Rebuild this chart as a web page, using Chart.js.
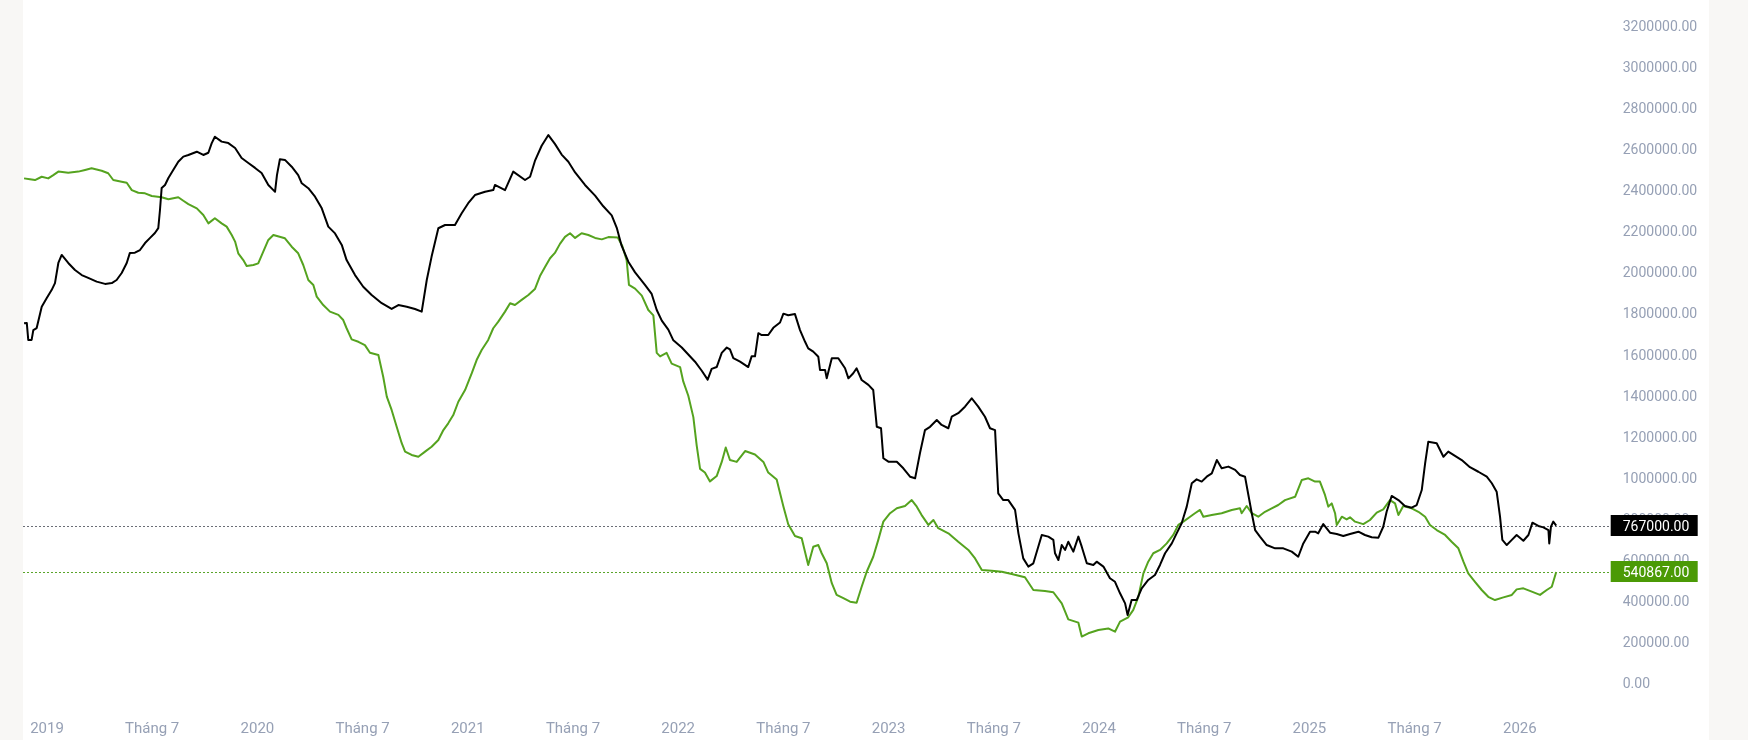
<!DOCTYPE html>
<html><head><meta charset="utf-8">
<script src="https://cdn.jsdelivr.net/npm/chart.js@4.4.1/dist/chart.umd.min.js"></script>
<style>
html,body{margin:0;padding:0;background:#f8f7f5;width:1748px;height:740px;overflow:hidden;}
#panel{position:absolute;left:23px;top:0;width:1686px;height:740px;background:#ffffff;}
canvas{display:block;}
</style></head><body>
<div id="panel"><canvas id="c" width="1686" height="740"></canvas></div>
<script>
// dates as decimal years
const blackDates=[
2018.891,2018.904,2018.911,2018.927,2018.935,2018.951,2018.975,2018.999,2019.022,2019.038,
2019.054,2019.070,2019.101,2019.133,2019.165,2019.196,2019.236,2019.276,2019.308,2019.331,
2019.355,2019.379,2019.394,2019.418,2019.442,2019.466,2019.490,2019.513,2019.529,2019.537,
2019.545,2019.561,2019.577,2019.600,2019.624,2019.648,2019.672,2019.712,2019.743,2019.767,
2019.783,2019.798,2019.830,2019.862,2019.894,2019.925,2019.957,2019.989,2020.020,2020.052,
2020.076,2020.084,2020.093,2020.107,2020.131,2020.163,2020.194,2020.211,2020.242,2020.274,
2020.306,2020.337,2020.369,2020.401,2020.424,2020.464,2020.503,2020.543,2020.591,2020.638,
2020.670,2020.710,2020.749,2020.781,2020.805,2020.828,2020.860,2020.892,2020.939,2020.971,
2021.002,2021.034,2021.082,2021.121,2021.129,2021.177,2021.216,2021.272,2021.296,2021.319,
2021.351,2021.383,2021.414,2021.446,2021.478,2021.510,2021.557,2021.605,2021.644,2021.684,
2021.708,2021.731,2021.763,2021.795,2021.842,2021.874,2021.898,2021.922,2021.953,2021.977,
2022.017,2022.048,2022.080,2022.112,2022.140,2022.159,2022.183,2022.207,2022.231,2022.246,
2022.262,2022.294,2022.333,2022.349,2022.365,2022.381,2022.397,2022.428,2022.452,2022.484,
2022.500,2022.523,2022.555,2022.579,2022.603,2022.618,2022.642,2022.666,2022.674,2022.698,
2022.706,2022.730,2022.761,2022.793,2022.809,2022.832,2022.848,2022.872,2022.904,2022.927,
2022.944,2022.964,2022.975,2022.999,2023.039,2023.070,2023.102,2023.126,2023.149,2023.173,
2023.197,2023.229,2023.252,2023.284,2023.300,2023.331,2023.363,2023.395,2023.426,2023.458,
2023.482,2023.506,2023.521,2023.545,2023.569,2023.601,2023.617,2023.640,2023.664,2023.688,
2023.728,2023.759,2023.783,2023.791,2023.807,2023.823,2023.839,2023.854,2023.878,2023.902,
2023.918,2023.942,2023.973,2023.989,2024.021,2024.052,2024.076,2024.100,2024.124,2024.136,
2024.155,2024.179,2024.203,2024.234,2024.266,2024.290,2024.314,2024.346,2024.369,2024.393,
2024.417,2024.441,2024.464,2024.488,2024.512,2024.536,2024.560,2024.583,2024.615,2024.647,
2024.670,2024.694,2024.710,2024.726,2024.742,2024.765,2024.797,2024.837,2024.876,2024.916,
2024.947,2024.971,2025.003,2025.027,2025.042,2025.066,2025.098,2025.130,2025.161,2025.193,
2025.233,2025.264,2025.296,2025.328,2025.351,2025.367,2025.391,2025.423,2025.454,2025.486,
2025.510,2025.534,2025.550,2025.565,2025.605,2025.637,2025.660,2025.692,2025.724,2025.763,
2025.803,2025.843,2025.867,2025.890,2025.906,2025.917,2025.938,2025.962,2025.985,2026.017,
2026.041,2026.060,2026.088,2026.112,2026.136,2026.140,2026.148,2026.159,2026.173
];
const blackValues=[
1752000,1754000,1671000,1671000,1719000,1729000,1833000,1875000,1914000,1948000,
2046000,2085000,2046000,2012000,1987000,1973000,1955000,1944000,1948000,1963000,
1997000,2046000,2095000,2096000,2109000,2143000,2168000,2192000,2216000,2304000,
2411000,2426000,2460000,2499000,2539000,2564000,2572000,2588000,2572000,2583000,
2630000,2661000,2637000,2630000,2606000,2557000,2533000,2509000,2484000,2426000,
2401000,2393000,2474000,2551000,2548000,2515000,2474000,2434000,2410000,2369000,
2312000,2223000,2190000,2134000,2060000,1987000,1930000,1890000,1850000,1822000,
1841000,1833000,1822000,1809000,1963000,2077000,2215000,2231000,2231000,2288000,
2337000,2377000,2393000,2401000,2426000,2401000,2491000,2450000,2466000,2543000,
2617000,2669000,2626000,2574000,2539000,2487000,2426000,2374000,2322000,2278000,
2217000,2130000,2052000,2000000,1939000,1895000,1817000,1765000,1721000,1669000,
1634000,1600000,1565000,1521000,1478000,1530000,1539000,1608000,1634000,1625000,
1582000,1565000,1539000,1591000,1591000,1704000,1695000,1695000,1730000,1756000,
1799000,1791000,1797000,1719000,1662000,1630000,1614000,1589000,1525000,1525000,
1484000,1582000,1582000,1533000,1484000,1509000,1533000,1476000,1452000,1427000,
1248000,1241000,1095000,1078000,1078000,1046000,1005000,997000,1119000,1232000,
1248000,1281000,1257000,1241000,1297000,1314000,1346000,1387000,1346000,1297000,
1241000,1232000,924000,891000,891000,843000,729000,607000,567000,583000,
721000,713000,697000,632000,599000,672000,648000,688000,640000,713000,
664000,583000,575000,591000,567000,510000,493000,437000,388000,331000,
404000,404000,461000,502000,526000,575000,632000,680000,729000,778000,
859000,973000,992000,981000,1005000,1021000,1086000,1046000,1054000,1038000,
1013000,1005000,916000,827000,745000,713000,672000,656000,656000,640000,
615000,680000,737000,737000,729000,774000,732000,726000,716000,726000,
737000,721000,710000,708000,761000,834000,911000,891000,862000,854000,
867000,940000,1070000,1175000,1168000,1102000,1127000,1106000,1086000,1051000,
1029000,1005000,973000,932000,810000,697000,672000,697000,721000,693000,
721000,781000,765000,758000,745000,680000,761000,786000,767000
];
const greenDates=[
2018.891,2018.919,2018.943,2018.975,2019.006,2019.030,2019.054,2019.101,2019.149,2019.181,
2019.212,2019.260,2019.291,2019.315,2019.355,2019.379,2019.403,2019.434,2019.466,2019.498,
2019.545,2019.577,2019.624,2019.648,2019.672,2019.712,2019.743,2019.767,2019.798,2019.830,
2019.854,2019.878,2019.894,2019.909,2019.933,2019.949,2019.981,2020.004,2020.028,2020.052,
2020.076,2020.131,2020.163,2020.194,2020.218,2020.242,2020.266,2020.282,2020.313,2020.345,
2020.385,2020.408,2020.424,2020.448,2020.480,2020.511,2020.535,2020.575,2020.598,2020.615,
2020.638,2020.662,2020.686,2020.702,2020.733,2020.765,2020.797,2020.828,2020.860,2020.884,
2020.907,2020.931,2020.955,2020.987,2021.019,2021.042,2021.066,2021.097,2021.121,2021.145,
2021.177,2021.201,2021.224,2021.256,2021.288,2021.319,2021.343,2021.367,2021.391,2021.414,
2021.438,2021.462,2021.486,2021.510,2021.541,2021.573,2021.605,2021.637,2021.668,2021.713,
2021.734,2021.755,2021.766,2021.795,2021.827,2021.858,2021.882,2021.898,2021.914,2021.945,
2021.969,2022.009,2022.024,2022.048,2022.072,2022.088,2022.104,2022.127,2022.151,2022.183,
2022.207,2022.226,2022.246,2022.278,2022.318,2022.365,2022.405,2022.428,2022.468,2022.500,
2022.523,2022.555,2022.587,2022.618,2022.642,2022.666,2022.682,2022.706,2022.730,2022.753,
2022.785,2022.817,2022.848,2022.872,2022.896,2022.927,2022.951,2022.975,2023.007,2023.039,
2023.078,2023.110,2023.134,2023.157,2023.189,2023.213,2023.236,2023.284,2023.331,2023.379,
2023.411,2023.443,2023.490,2023.538,2023.585,2023.648,2023.688,2023.743,2023.783,2023.823,
2023.854,2023.902,2023.918,2023.949,2023.997,2024.044,2024.076,2024.100,2024.139,2024.163,
2024.187,2024.211,2024.234,2024.258,2024.290,2024.322,2024.353,2024.377,2024.401,2024.433,
2024.456,2024.480,2024.496,2024.536,2024.583,2024.631,2024.670,2024.678,2024.702,2024.726,
2024.757,2024.789,2024.821,2024.852,2024.884,2024.932,2024.964,2024.995,2025.027,2025.050,
2025.074,2025.090,2025.106,2025.122,2025.130,2025.154,2025.177,2025.193,2025.217,2025.256,
2025.288,2025.320,2025.351,2025.383,2025.407,2025.423,2025.446,2025.486,2025.518,2025.550,
2025.573,2025.605,2025.645,2025.676,2025.708,2025.732,2025.755,2025.787,2025.819,2025.850,
2025.882,2025.922,2025.962,2025.985,2026.017,2026.057,2026.096,2026.128,2026.152,2026.173
];
const greenValues=[
2458000,2454000,2450000,2466000,2458000,2474000,2491000,2486000,2491000,2499000,
2507000,2495000,2483000,2450000,2442000,2437000,2401000,2388000,2385000,2372000,
2366000,2356000,2366000,2349000,2333000,2312000,2280000,2239000,2264000,2239000,
2223000,2182000,2150000,2093000,2060000,2031000,2036000,2044000,2101000,2158000,
2182000,2166000,2125000,2093000,2036000,1963000,1939000,1882000,1841000,1809000,
1793000,1768000,1728000,1674000,1662000,1646000,1609000,1598000,1492000,1395000,
1330000,1248000,1168000,1127000,1111000,1102000,1127000,1151000,1184000,1232000,
1265000,1305000,1370000,1427000,1509000,1573000,1622000,1671000,1728000,1760000,
1809000,1850000,1841000,1866000,1890000,1919000,1982000,2026000,2069000,2095000,
2139000,2173000,2191000,2168000,2191000,2182000,2168000,2161000,2172000,2170000,
2130000,2060000,1939000,1921000,1887000,1817000,1791000,1608000,1591000,1608000,
1556000,1539000,1469000,1399000,1295000,1156000,1043000,1025000,982000,1008000,
1077000,1147000,1086000,1077000,1130000,1113000,1077000,1025000,991000,860000,
773000,716000,705000,575000,664000,672000,632000,583000,486000,429000,
413000,396000,391000,469000,542000,615000,697000,786000,827000,851000,
862000,891000,859000,818000,770000,794000,754000,729000,688000,648000,
607000,550000,547000,542000,531000,515000,453000,448000,442000,388000,
310000,294000,226000,242000,258000,266000,250000,299000,320000,356000,
420000,534000,591000,632000,648000,680000,721000,770000,786000,810000,
827000,843000,810000,818000,827000,843000,851000,827000,862000,827000,
810000,834000,851000,867000,891000,907000,989000,997000,981000,981000,
916000,859000,875000,827000,770000,810000,797000,807000,786000,774000,
794000,830000,846000,891000,875000,818000,862000,851000,834000,810000,
770000,745000,721000,688000,656000,591000,534000,493000,453000,420000,
404000,417000,429000,456000,461000,445000,429000,453000,469000,540867
];
const xTickValues=[2019,2019.5,2020,2020.5,2021,2021.5,2022,2022.5,2023,2023.5,2024,2024.5,2025,2025.5,2026];
const xTickLabels=['2019','Tháng 7','2020','Tháng 7','2021','Tháng 7','2022','Tháng 7','2023','Tháng 7','2024','Tháng 7','2025','Tháng 7','2026'];
const yTickValues=[0,200000,400000,600000,800000,1000000,1200000,1400000,1600000,1800000,2000000,2200000,2400000,2600000,2800000,3000000,3200000];

const X_MIN=2018.886, X_MAX=2026.432, Y_MIN=-82800, Y_MAX=3326900;
const AXIS_COLOR='#96a0b5';
const FONT_FAMILY='Roboto, "Noto Sans", sans-serif';

const seriesStyle=[
  {line:'#000000', box:'#000000', guide:'#6b6e76'},
  {line:'#55a31f', box:'#4b9a05', guide:'#5aa52a'}
];

const toPts=(xs,ys)=>xs.map((x,i)=>({x:x,y:ys[i]}));

const lastValuePlugin={
  id:'lastValue',
  beforeDatasetsDraw(chart){
    const {ctx, chartArea, scales:{y}}=chart;
    chart.data.datasets.forEach((ds,i)=>{
      const v=ds.data[ds.data.length-1].y;
      const py=Math.round(y.getPixelForValue(v))+0.5;
      ctx.save();
      ctx.strokeStyle=seriesStyle[i].guide;
      ctx.lineWidth=1;
      ctx.setLineDash([2,2]);
      ctx.beginPath();ctx.moveTo(chartArea.left,py);ctx.lineTo(chartArea.right,py);ctx.stroke();
      ctx.restore();
    });
  },
  afterDraw(chart){
    const {ctx, scales:{y}}=chart;
    chart.data.datasets.forEach((ds,i)=>{
      const v=ds.data[ds.data.length-1].y;
      const py=y.getPixelForValue(v);
      ctx.save();
      ctx.fillStyle=seriesStyle[i].box;
      ctx.fillRect(y.left, Math.round(py-10.5), 87, 21);
      ctx.fillStyle='#ffffff';
      ctx.font='14px '+FONT_FAMILY;
      ctx.textBaseline='middle';
      ctx.textAlign='left';
      ctx.fillText(v.toFixed(2), y.left+12, py+1.5);
      ctx.restore();
    });
  }
};

new Chart(document.getElementById('c'),{
  type:'line',
  data:{datasets:[
    {data:toPts(blackDates,blackValues), borderColor:seriesStyle[0].line, borderWidth:2, pointRadius:0, tension:0, fill:false, borderJoinStyle:'round'},
    {data:toPts(greenDates,greenValues), borderColor:seriesStyle[1].line, borderWidth:2, pointRadius:0, tension:0, fill:false, borderJoinStyle:'round'}
  ]},
  options:{
    responsive:false, animation:false, events:[],
    layout:{padding:0},
    plugins:{legend:{display:false}, tooltip:{enabled:false}},
    scales:{
      x:{type:'linear', min:X_MIN, max:X_MAX,
        grid:{display:false, drawTicks:false}, border:{display:false},
        afterBuildTicks:(s)=>{s.ticks=xTickValues.map(v=>({value:v}));},
        afterFit:(s)=>{s.height=40; s.paddingLeft=0; s.paddingRight=0; s.paddingTop=0; s.paddingBottom=0;},
        ticks:{autoSkip:false, maxRotation:0, minRotation:0, padding:20, color:AXIS_COLOR, font:{family:FONT_FAMILY,size:15},
          callback:(v)=>{const i=xTickValues.indexOf(v); return i>=0?xTickLabels[i]:'';}}
      },
      y:{type:'linear', position:'right', min:Y_MIN, max:Y_MAX,
        grid:{display:false, drawTicks:false}, border:{display:false},
        afterBuildTicks:(s)=>{s.ticks=yTickValues.map(v=>({value:v}));},
        afterFit:(s)=>{s.width=98.3; s.paddingLeft=0; s.paddingRight=0; s.paddingTop=0; s.paddingBottom=0;},
        ticks:{padding:12, labelOffset:1.5, color:AXIS_COLOR, font:{family:FONT_FAMILY,size:14}, callback:(v)=>Number(v).toFixed(2)}
      }
    }
  },
  plugins:[lastValuePlugin]
});
</script>
</body></html>
